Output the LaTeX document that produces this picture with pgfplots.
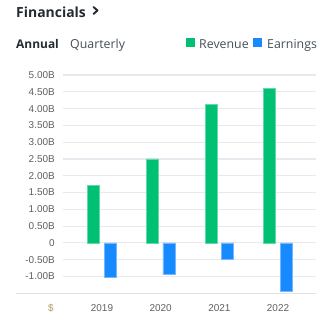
\documentclass[border=0pt]{standalone}
\usepackage{pgfplots}
\pgfplotsset{compat=1.18}
\usepackage{fontspec}
\setmainfont{Liberation Sans}
\newfontfamily\hdr{Open Sans}
\definecolor{rev}{RGB}{0,192,115}
\definecolor{earn}{RGB}{24,138,255}
\definecolor{gridc}{RGB}{232,232,238}
\definecolor{txt}{RGB}{35,42,49}
\definecolor{sub}{RGB}{70,78,86}
\definecolor{tickc}{RGB}{95,95,95}
\definecolor{dollar}{RGB}{175,150,100}
\definecolor{basec}{RGB}{225,225,230}
\begin{document}
\begin{tikzpicture}[x=1bp,y=1bp]
\useasboundingbox (0,0) rectangle (322,322);
\begin{axis}[
  at={(63bp,28.7bp)}, anchor=south west,
  scale only axis, width=253bp, height=218.3bp,
  xmin=-0.664, xmax=3.647, ymin=-1.5, ymax=5.0,
  axis line style={draw=none},
  major tick length=0pt,
  ymajorgrids, grid style={gridc, line width=1.1bp},
  ytick={-1,-0.5,0,0.5,1,1.5,2,2.5,3,3.5,4,4.5,5},
  yticklabels={-1.00B,-0.50B,0,0.50B,1.00B,1.50B,2.00B,2.50B,3.00B,3.50B,4.00B,4.50B,5.00B},
  xtick={0,1,2,3},
  xticklabels={2019,2020,2021,2022},
  ticklabel style={font=\fontsize{10}{12}\selectfont, text=tickc},
  yticklabel style={xshift=-4.7bp},
  xticklabel style={yshift=-8bp},
  clip=false,
]
\addplot[ybar, bar width=12bp, bar shift=-8.3bp, fill=rev, draw=rev!60!white, line width=0.6bp]
  coordinates {(0,1.71) (1,2.50) (2,4.12) (3,4.59)};
\addplot[ybar, bar width=12bp, bar shift=8.3bp, fill=earn, draw=earn!60!white, line width=0.6bp]
  coordinates {(0,-1.03) (1,-0.94) (2,-0.49) (3,-1.44)};
\end{axis}
\draw[basec, line width=1.5bp] (16,28.7) -- (316,28.7);
\node[anchor=center, font=\fontsize{10}{12}\selectfont, text=dollar] at (51,14) {\$};
\node[anchor=base west, inner sep=0pt, font=\hdr\bfseries\fontsize{14}{17}\selectfont, text=txt] at (16,305) {Financials};
\draw[txt, line width=1.9bp, line cap=round, line join=round] (93.5,315) -- (97.5,311.5) -- (93.5,308);
\node[anchor=base west, inner sep=0pt, font=\hdr\bfseries\fontsize{12}{14}\selectfont, text=txt] at (16,273.6) {Annual};
\node[anchor=base west, inner sep=0pt, font=\hdr\fontsize{12.4}{14}\selectfont, text=sub] at (70,273.6) {Quarterly};
\fill[rev] (186,275.3) rectangle (195,283.7);
\node[anchor=base west, inner sep=0pt, font=\hdr\fontsize{12.4}{14}\selectfont, text=sub] at (199,273.6) {Revenue};
\fill[earn] (253,275.3) rectangle (262,283.7);
\node[anchor=base west, inner sep=0pt, font=\hdr\fontsize{12.4}{14}\selectfont, text=sub] at (267,273.6) {Earnings};
\end{tikzpicture}
\end{document}
